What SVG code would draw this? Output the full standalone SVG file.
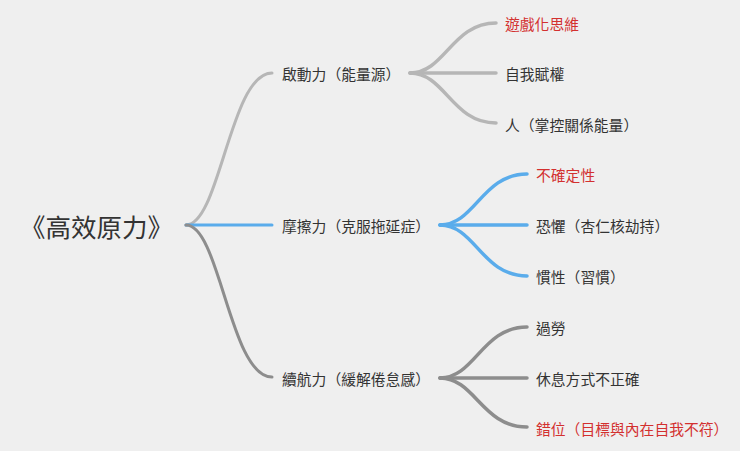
<svg xmlns="http://www.w3.org/2000/svg" width="740" height="451" viewBox="0 0 740 451">
<style>
text{font-family:"Noto Sans CJK TC","Noto Sans CJK SC",sans-serif;fill:#333;dominant-baseline:central}
.root{font-size:25.5px}
.t{font-size:14.8px}
.red{fill:#d3302f}
.c{fill:none;stroke-linecap:round}
.g1{stroke:#b6b6b6}
.bl{stroke:#5aaceb}
.g3{stroke:#8d8d8d}
.w3{stroke-width:3}
.w4{stroke-width:3.5}
</style>
<rect width="740" height="451" fill="#efefef"/>
<g id="connectors">
<path class="c g1 w3" d="M186,225 C220,225 230,73 272,73"/>
<path class="c bl w3" d="M186,225 L272,225"/>
<path class="c g3 w3" d="M186,225 C220,225 230,377 272,377"/>
<path class="c g1 w4" d="M410,73 C445,73 452,23 496,23"/>
<path class="c g1 w4" d="M410,73 L496,73"/>
<path class="c g1 w4" d="M410,73 C445,73 452,123 496,123"/>
<path class="c bl w4" d="M440,225 C475,225 482,174 527,174"/>
<path class="c bl w4" d="M440,225 L527,225"/>
<path class="c bl w4" d="M440,225 C475,225 482,276 527,276"/>
<path class="c g3 w4" d="M440,378 C475,378 482,327 527,327"/>
<path class="c g3 w4" d="M440,378 L527,378"/>
<path class="c g3 w4" d="M440,378 C475,378 482,427 527,427"/>
</g>
<g id="root"><text class="root" x="20" y="225">《高效原力》</text></g>
<g id="n1"><text class="t" x="282" y="73">啟動力（能量源）</text></g>
<g id="n2"><text class="t" x="282" y="225">摩擦力（克服拖延症）</text></g>
<g id="n3"><text class="t" x="282" y="378">續航力（緩解倦怠感）</text></g>
<g id="n1a"><text class="t red" x="505" y="23">遊戲化思維</text></g>
<g id="n1b"><text class="t" x="505" y="73">自我賦權</text></g>
<g id="n1c"><text class="t" x="505" y="124">人（掌控關係能量）</text></g>
<g id="n2a"><text class="t red" x="536" y="174">不確定性</text></g>
<g id="n2b"><text class="t" x="536" y="225">恐懼（杏仁核劫持）</text></g>
<g id="n2c"><text class="t" x="536" y="276">慣性（習慣）</text></g>
<g id="n3a"><text class="t" x="536" y="327">過勞</text></g>
<g id="n3b"><text class="t" x="536" y="378">休息方式不正確</text></g>
<g id="n3c"><text class="t red" x="536" y="428">錯位（目標與內在自我不符）</text></g>
</svg>
